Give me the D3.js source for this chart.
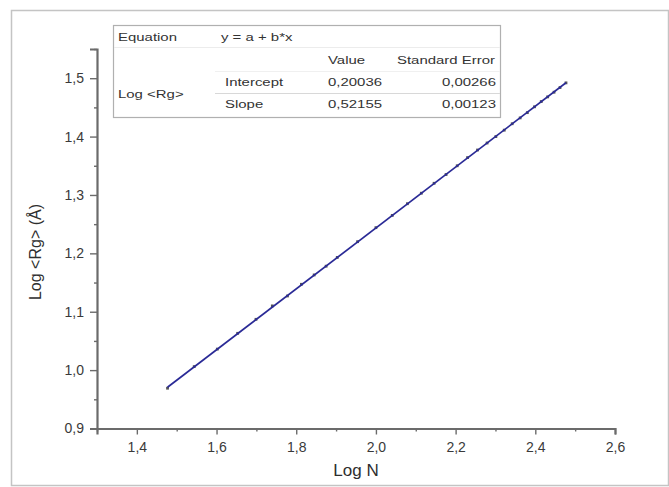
<!DOCTYPE html>
<html>
<head>
<meta charset="utf-8">
<script src="https://cdn.jsdelivr.net/npm/d3@7"></script>
<style>
  html, body { margin: 0; padding: 0; background: #fff; }
  svg { display: block; font-family: "Liberation Sans", Arial, sans-serif; }
</style>
</head>
<body>
<svg id="chart" width="669" height="487"></svg>
<script>
// Log N vs Log <Rg> measurements
const logN = [1.477, 1.544, 1.602, 1.653, 1.699, 1.740, 1.778, 1.813, 1.845, 1.875,
              1.903, 1.954, 2.000, 2.041, 2.079, 2.114, 2.146, 2.176, 2.204, 2.230,
              2.255, 2.279, 2.301, 2.322, 2.342, 2.362, 2.380, 2.398, 2.415, 2.431,
              2.447, 2.462, 2.477];
const logRg = [0.969, 1.006, 1.036, 1.063, 1.087, 1.110, 1.127, 1.147, 1.163, 1.178,
               1.193, 1.220, 1.244, 1.265, 1.285, 1.303, 1.320, 1.335, 1.350, 1.364,
               1.377, 1.389, 1.400, 1.411, 1.422, 1.432, 1.441, 1.451, 1.460, 1.468,
               1.476, 1.484, 1.492];

// Linear fit results y = a + b*x
const fitIntercept = 0.20036;
const fitSlope = 0.52155;
const fitErrIntercept = "0,00266";
const fitErrSlope = "0,00123";

// Axis ticks
const xTicks = [1.4, 1.6, 1.8, 2.0, 2.2, 2.4, 2.6];
const xMinor = [1.3, 1.5, 1.7, 1.9, 2.1, 2.3, 2.5];
const yTicks = [0.9, 1.0, 1.1, 1.2, 1.3, 1.4, 1.5];
const yMinor = [0.95, 1.05, 1.15, 1.25, 1.35, 1.45, 1.55];

const loc = d3.formatLocale({decimal: ",", thousands: ".", grouping: [3], currency: ["", ""]});
const f1 = loc.format(".1f");
const f5 = loc.format(".5f");

const svg = d3.select("#chart");

// outer frame
svg.append("rect").attr("x", 11.5).attr("y", 10.5).attr("width", 657).attr("height", 475)
  .attr("fill", "#fff").attr("stroke", "#c4c4c4").attr("stroke-width", 1.5);

const x = d3.scaleLinear().domain([1.3, 2.6]).range([97, 615]);
const y = d3.scaleLinear().domain([0.9, 1.55]).range([428.5, 49]);

const axisColor = "#6b6b6b";
const textColor = "#3a3a3a";
const fontFam = "Liberation Sans, Arial, sans-serif";

// x axis
const gx = svg.append("g").attr("transform", `translate(0,${y(0.9)})`);
gx.call(d3.axisBottom(x).tickValues(xTicks).tickFormat(f1).tickSize(6).tickPadding(8));
gx.append("g").call(d3.axisBottom(x).tickValues(xMinor).tickFormat("").tickSize(3))
  .select(".domain").remove();
gx.selectAll(".domain").attr("stroke", axisColor).attr("stroke-width", 2.2);
gx.selectAll(".tick line").attr("stroke", axisColor).attr("stroke-width", 1.4);
gx.selectAll(".tick text").attr("fill", textColor).attr("font-size", 14)
  .attr("font-family", fontFam);

// y axis
const gy = svg.append("g").attr("transform", `translate(${x(1.3)},0)`);
gy.call(d3.axisLeft(y).tickValues(yTicks).tickFormat(f1).tickSize(7).tickPadding(6));
gy.append("g").call(d3.axisLeft(y).tickValues(yMinor).tickFormat("").tickSize(3))
  .select(".domain").remove();
gy.selectAll(".domain").attr("stroke", axisColor).attr("stroke-width", 2.2);
gy.selectAll(".tick line").attr("stroke", axisColor).attr("stroke-width", 1.4);
gy.selectAll(".tick text").attr("fill", textColor).attr("font-size", 14)
  .attr("font-family", fontFam);

// axis titles
svg.append("text").attr("x", 356).attr("y", 476).attr("text-anchor", "middle")
  .attr("font-size", 17).attr("fill", "#2e2e2e").text("Log N");
svg.append("text").attr("transform", "translate(41,252) rotate(-90)").attr("text-anchor", "middle")
  .attr("font-size", 16).attr("fill", "#2e2e2e").text("Log <Rg> (Å)");

// data points
svg.append("g").selectAll("rect").data(logN).join("rect")
  .attr("x", (d) => x(d) - 1.4).attr("y", (d, i) => y(logRg[i]) - 1.4)
  .attr("width", 2.8).attr("height", 2.8).attr("fill", "#555");

// fitted line
const xs = d3.extent(logN);
svg.append("path")
  .datum(xs.map((v) => [v, fitIntercept + fitSlope * v]))
  .attr("d", d3.line().x((d) => x(d[0])).y((d) => y(d[1])))
  .attr("stroke", "#2a2a96").attr("stroke-width", 1.7).attr("fill", "none");

// fit results table
const tb = svg.append("g");
tb.append("rect").attr("x", 113.5).attr("y", 25.5).attr("width", 387).attr("height", 92)
  .attr("fill", "#fff").attr("stroke", "#b0b0b0").attr("stroke-width", 1.2);
tb.append("line").attr("x1", 114).attr("x2", 500).attr("y1", 47.5).attr("y2", 47.5)
  .attr("stroke", "#ececec");
tb.append("line").attr("x1", 215).attr("x2", 500).attr("y1", 93.5).attr("y2", 93.5)
  .attr("stroke", "#d8d8d8");
tb.append("line").attr("x1", 215).attr("x2", 500).attr("y1", 71.5).attr("y2", 71.5)
  .attr("stroke", "#f0f0f0");

const cells = [
  {t: "Equation", x: 118, y: 41, a: "start"},
  {t: "y = a + b*x", x: 221, y: 41, a: "start"},
  {t: "Value", x: 328, y: 64, a: "start"},
  {t: "Standard Error", x: 397, y: 64, a: "start"},
  {t: "Log <Rg>", x: 118, y: 98, a: "start"},
  {t: "Intercept", x: 225, y: 86, a: "start"},
  {t: f5(fitIntercept), x: 328, y: 86, a: "start"},
  {t: fitErrIntercept, x: 496, y: 86, a: "end"},
  {t: "Slope", x: 225, y: 108, a: "start"},
  {t: f5(fitSlope), x: 328, y: 108, a: "start"},
  {t: fitErrSlope, x: 496, y: 108, a: "end"}
];
// table text is set in a horizontally widened face
tb.selectAll("text.cell").data(cells).join("text").attr("class", "cell")
  .attr("transform", (d) => `translate(${d.x},${d.y}) scale(1.3,1)`)
  .attr("text-anchor", (d) => d.a)
  .attr("font-size", 11.5).attr("fill", "#333").text((d) => d.t);
</script>
</body>
</html>
